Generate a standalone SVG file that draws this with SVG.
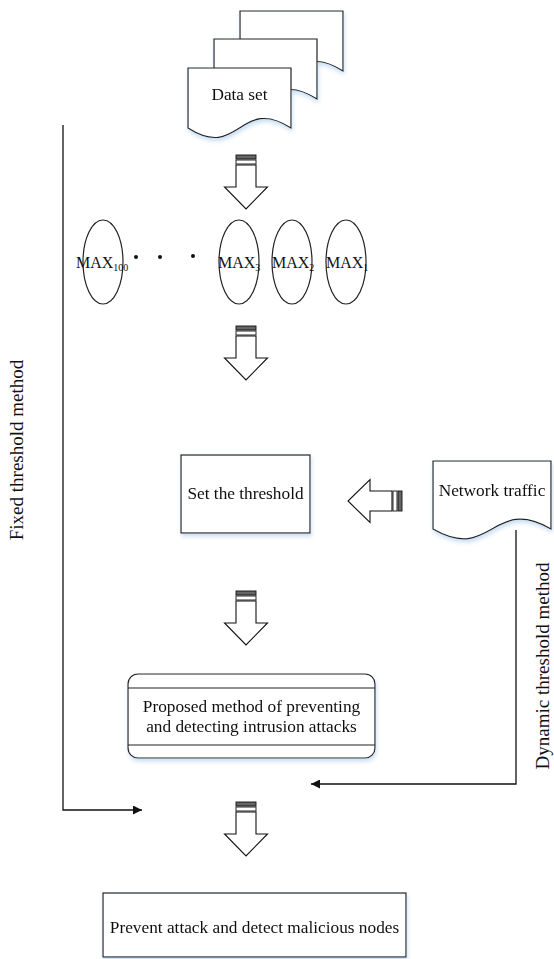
<svg xmlns="http://www.w3.org/2000/svg" width="554" height="959" viewBox="0 0 554 959">
<style>
  text { font-family: "Liberation Serif", "Times New Roman", serif; font-size: 17.3px; fill: #111; }
  .c { text-anchor: middle; }
  .shape { fill: #fff; stroke: #222; stroke-width: 1.2; }
  .conn { fill: none; stroke: #111; stroke-width: 1.3; }
  .bar-dark { fill: #666; stroke: #111; stroke-width: 0.9; }
  .bar-light { fill: #fff; stroke: #111; stroke-width: 0.9; }
  .arrow-body { fill: #fff; stroke: #111; stroke-width: 1.1; }
  .max { font-size: 16px; }
  .side { font-size: 19px; }
</style>
<defs>
  <filter id="sh" x="-10%" y="-10%" width="130%" height="140%">
    <feDropShadow dx="1" dy="3" stdDeviation="2" flood-color="#9fc4e8" flood-opacity="0.55"/>
  </filter>
  <marker id="tri" viewBox="0 0 10 10" refX="10" refY="5" markerWidth="9" markerHeight="9" markerUnits="userSpaceOnUse" orient="auto">
    <path d="M0,0 L10,5 L0,10 Z" fill="#111"/>
  </marker>
  <g id="blockArrow">
    <rect class="bar-dark" x="-10" y="0" width="20" height="4"/>
    <rect class="bar-light" x="-10" y="5" width="20" height="4"/>
    <path class="arrow-body" d="M-10,10 L10,10 L10,32 L21.5,32 L0,54 L-21.5,32 L-10,32 Z"/>
  </g>
</defs>

<g id="connectors">
  <path class="conn" d="M63,125 V810 H142" marker-end="url(#tri)"/>
  <path class="conn" d="M516,530 V784 H311" marker-end="url(#tri)"/>
  <use href="#blockArrow" transform="translate(246,155)"/>
  <use href="#blockArrow" transform="translate(246,326)"/>
  <use href="#blockArrow" transform="translate(246,591)"/>
  <use href="#blockArrow" transform="translate(246,802)"/>
  <use href="#blockArrow" transform="translate(402,501) rotate(90)"/>
</g>

<g id="dataset" filter="url(#sh)">
  <path class="shape" d="M240,11 H343 V71 C291.5,38 291.5,104 240,71 Z"/>
  <path class="shape" d="M214,39 H317 V99 C265.5,66 265.5,132 214,99 Z"/>
  <path class="shape" d="M188,68 H291 V128 C239.5,95 239.5,161 188,128 Z"/>
  <text class="c" x="239.5" y="100">Data set</text>
</g>

<g id="max100">
  <ellipse class="shape" cx="103" cy="262" rx="20" ry="42"/>
  <text class="max" x="76" y="268">MAX<tspan font-size="10" dy="3">100</tspan></text>
</g>
<g id="dots">
  <circle cx="136" cy="257" r="2" fill="#111"/>
  <circle cx="160" cy="257" r="2" fill="#111"/>
  <circle cx="193" cy="256" r="2" fill="#111"/>
</g>
<g id="max3">
  <ellipse class="shape" cx="239" cy="262" rx="20" ry="42"/>
  <text class="max" x="218" y="268">MAX<tspan font-size="10" dy="3">3</tspan></text>
</g>
<g id="max2">
  <ellipse class="shape" cx="292" cy="262" rx="20" ry="42"/>
  <text class="max" x="272" y="268">MAX<tspan font-size="10" dy="3">2</tspan></text>
</g>
<g id="max1">
  <ellipse class="shape" cx="346" cy="262" rx="20" ry="42"/>
  <text class="max" x="326" y="268">MAX<tspan font-size="10" dy="3">1</tspan></text>
</g>

<g id="setThreshold" filter="url(#sh)">
  <rect class="shape" x="181" y="455" width="129" height="78"/>
  <text class="c" x="245.5" y="499">Set the threshold</text>
</g>

<g id="networkTraffic" filter="url(#sh)">
  <path class="shape" d="M433,461 H551 V529 C492,495 492,563 433,529 Z"/>
  <text class="c" x="492" y="496">Network traffic</text>
</g>

<g id="proposed" filter="url(#sh)">
  <rect class="shape" x="128" y="674" width="247" height="84" rx="10"/>
  <line x1="128" y1="688" x2="375" y2="688" stroke="#222" stroke-width="1.2"/>
  <line x1="128" y1="745" x2="375" y2="745" stroke="#222" stroke-width="1.2"/>
  <text class="c" x="251.5" y="712">Proposed method of preventing</text>
  <text class="c" x="251.5" y="732">and detecting intrusion attacks</text>
</g>

<g id="prevent" filter="url(#sh)">
  <rect class="shape" x="103" y="893" width="303" height="64"/>
  <text class="c" x="254.5" y="933">Prevent attack and detect malicious nodes</text>
</g>

<g id="labels">
  <text class="c side" transform="translate(23,450) rotate(-90)">Fixed threshold method</text>
  <text class="c side" transform="translate(549,666) rotate(-90)">Dynamic threshold method</text>
</g>
</svg>
